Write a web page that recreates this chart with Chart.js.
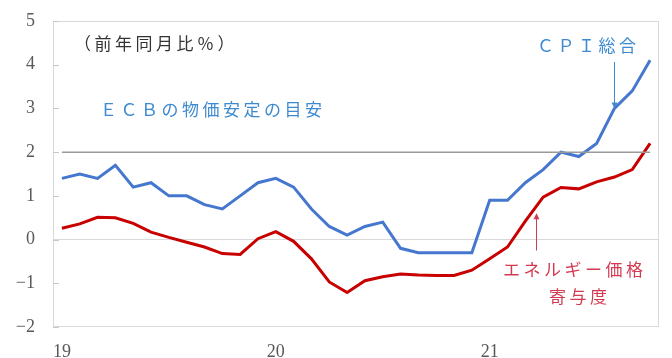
<!DOCTYPE html>
<html>
<head>
<meta charset="utf-8">
<script src="https://cdn.jsdelivr.net/npm/chart.js@4"></script>
<style>
  html, body { margin: 0; padding: 0; background: #fff; }
  #wrap { width: 672px; height: 358px; }
</style>
</head>
<body>
<div id="wrap"><canvas id="lineChart" width="672" height="358"></canvas></div>
<script>
// months, Jan 2019 .. Oct 2021
var months = ['2019-01','2019-02','2019-03','2019-04','2019-05','2019-06','2019-07','2019-08','2019-09','2019-10','2019-11','2019-12',
              '2020-01','2020-02','2020-03','2020-04','2020-05','2020-06','2020-07','2020-08','2020-09','2020-10','2020-11','2020-12',
              '2021-01','2021-02','2021-03','2021-04','2021-05','2021-06','2021-07','2021-08','2021-09','2021-10']

// CPI総合 (前年同月比%)
var cpiTotal = [1.4, 1.5, 1.4, 1.7, 1.2, 1.3, 1.0, 1.0, 0.8, 0.7, 1.0, 1.3,
                1.4, 1.2, 0.7, 0.3, 0.1, 0.3, 0.4, -0.2, -0.3, -0.3, -0.3, -0.3,
                0.9, 0.9, 1.3, 1.6, 2.0, 1.9, 2.2, 3.0, 3.4, 4.1]

// エネルギー価格寄与度
var energyContrib = [0.26, 0.36, 0.51, 0.50, 0.37, 0.17, 0.05, -0.06, -0.17, -0.32, -0.34, 0.02,
                     0.18, -0.04, -0.44, -0.97, -1.21, -0.94, -0.85, -0.79, -0.81, -0.82, -0.82, -0.70,
                     -0.44, -0.17, 0.42, 0.97, 1.19, 1.16, 1.32, 1.43, 1.60, 2.20]

// ECBの物価安定の目安
var ecbTarget = months.map(function () { return 2 })

var yTicks = [-2, -1, 0, 1, 2, 3, 4, 5]

var serif = '"Liberation Serif", serif'
var jp = '"Noto Sans CJK JP", "Noto Sans", sans-serif'

function arrow(ctx, x, y1, y2, color) {
  var dir = y2 > y1 ? 1 : -1
  ctx.strokeStyle = color
  ctx.fillStyle = color
  ctx.lineWidth = 1
  ctx.beginPath()
  ctx.moveTo(x, y1)
  ctx.lineTo(x, y2 - dir * 3)
  ctx.stroke()
  ctx.beginPath()
  ctx.moveTo(x, y2)
  ctx.lineTo(x - 3, y2 - dir * 6)
  ctx.lineTo(x + 3, y2 - dir * 6)
  ctx.closePath()
  ctx.fill()
}

var notes = {
  id: 'notes',
  beforeDatasetsDraw: function (chart) {
    var ctx = chart.ctx, a = chart.chartArea, ys = chart.scales.y
    ctx.save()
    ctx.strokeStyle = '#d9d9d9'
    ctx.lineWidth = 1
    ctx.strokeRect(a.left + 0.5, a.top + 0.5, a.right - a.left - 1, a.bottom - a.top - 1)
    // small inward tick marks on the value axis
    ctx.strokeStyle = '#c8c8c8'
    yTicks.forEach(function (v) {
      var y = Math.round(ys.getPixelForValue(v)) + 0.5
      ctx.beginPath()
      ctx.moveTo(a.left, y)
      ctx.lineTo(a.left + 6, y)
      ctx.stroke()
    })
    ctx.restore()
  },
  afterDatasetsDraw: function (chart) {
    var ctx = chart.ctx
    var xs = chart.scales.x, ys = chart.scales.y
    ctx.save()
    ctx.textBaseline = 'middle'
    ctx.textAlign = 'left'
    ctx.font = '17px ' + jp
    ctx.letterSpacing = '3.5px'

    ctx.fillStyle = '#333333'
    ctx.fillText('（前年同月比％）', 74, 44)

    ctx.fillStyle = '#3d8ad0'
    ctx.fillText('ＥＣＢの物価安定の目安', 100, 110)
    ctx.fillText('ＣＰＩ総合', 537, 46)

    ctx.fillStyle = '#d23a52'
    ctx.fillText('エネルギー価格', 503, 270)
    ctx.fillText('寄与度', 549, 297)
    ctx.restore()

    ctx.save()
    var xc = xs.getPixelForValue(31)
    arrow(ctx, Math.round(xc) + 0.5, 62, ys.getPixelForValue(cpiTotal[31]), '#3d8ad0')
    var xr = (xs.getPixelForValue(26) + xs.getPixelForValue(27)) / 2 + 2
    arrow(ctx, Math.round(xr) + 0.5, ys.getPixelForValue(-0.25), ys.getPixelForValue(0.6), '#d23a52')
    ctx.restore()
  }
}

var ctxL = document.getElementById('lineChart').getContext('2d')
var myLineChart = new Chart(ctxL, {
  type: 'line',
  data: {
    labels: months,
    datasets: [
      { label: 'ECB', data: ecbTarget, borderColor: '#9a9a9a', borderWidth: 1.5, pointRadius: 0, tension: 0 },
      { label: 'エネルギー価格寄与度', data: energyContrib, borderColor: '#c80000', borderWidth: 3, pointRadius: 0, tension: 0 },
      { label: 'CPI総合', data: cpiTotal, borderColor: '#4677cf', borderWidth: 3, pointRadius: 0, tension: 0 }
    ]
  },
  options: {
    responsive: false,
    animation: false,
    layout: { padding: { top: 21, right: 13, left: 0, bottom: 0 } },
    plugins: { legend: { display: false }, tooltip: { enabled: false } },
    scales: {
      x: {
        offset: true,
        afterFit: function (s) { s.height = 31; s.paddingLeft = 0; s.paddingRight = 0 },
        grid: { display: false, drawTicks: false },
        border: { display: false },
        ticks: {
          autoSkip: false,
          maxRotation: 0,
          padding: 14,
          color: '#595959',
          font: { family: serif, size: 18 },
          callback: function (v, i) {
            var m = months[i]
            return m.slice(5) === '01' ? m.slice(2, 4) : ''
          }
        }
      },
      y: {
        min: -2,
        max: 5,
        afterFit: function (s) { s.width = 53; s.paddingTop = 0; s.paddingBottom = 0 },
        afterBuildTicks: function (s) { s.ticks = yTicks.map(function (v) { return { value: v } }) },
        grid: {
          drawTicks: false,
          color: function (c) { return c.tick && c.tick.value === 0 ? '#d9d9d9' : 'rgba(0,0,0,0)' }
        },
        border: { display: false },
        ticks: {
          padding: 18,
          color: '#595959',
          font: { family: serif, size: 18 },
          callback: function (v) { return v < 0 ? '−' + Math.abs(v) : String(v) }
        }
      }
    }
  },
  plugins: [notes]
})
</script>
</body>
</html>
